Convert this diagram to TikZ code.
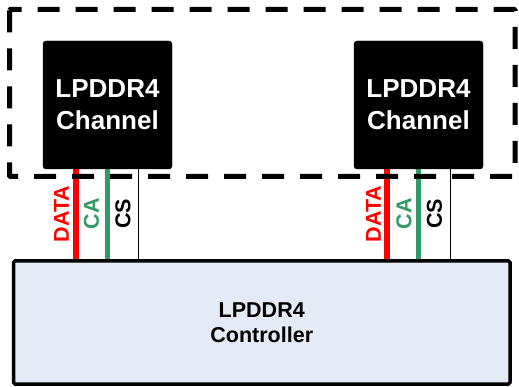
\documentclass[tikz,border=0pt]{standalone}
\usepackage{fontspec}
\setmainfont{Liberation Sans}
\usetikzlibrary{backgrounds}
\definecolor{ctrlfill}{HTML}{E4EBF6}
\definecolor{cagreen}{HTML}{339966}
\begin{document}
\begin{tikzpicture}[x=1pt,y=-1pt,
  chanbox/.style={draw=black,fill=black,rounded corners=3pt,minimum width=129pt,minimum height=128pt,
    inner sep=0pt,align=center,text=white,font=\bfseries\fontsize{26}{32}\selectfont},
  ctrlbox/.style={draw=black,fill=ctrlfill,line width=3.5pt,rounded corners=1.5pt,minimum width=496.5pt,
    minimum height=123pt,inner sep=0pt,align=center,font=\bfseries\fontsize{21.5}{25}\selectfont},
  groupframe/.style={draw=black,line width=5pt,dash pattern=on 22pt off 16pt,rounded corners=1pt},
  dataline/.style={draw=red,line width=6pt,line cap=round},
  caline/.style={draw=cagreen,line width=5pt,line cap=round},
  csline/.style={draw=black,line width=1pt},
  siglabel/.style={rotate=90,inner sep=0pt,font=\bfseries\fontsize{21.5}{24}\selectfont}]
\useasboundingbox (0,0) rectangle (519,387);

% dashed frame around the two channels
\draw[groupframe] (9.5,9.5) rectangle (515,176.5);

% memory channels and controller
\node[chanbox] (ch1) at (107.5,105) {LPDDR4\\Channel};
\node[chanbox] (ch2) at (418.5,105) {LPDDR4\\Channel};
\node[ctrlbox] (ctrl) at (261.75,322.5) {LPDDR4\\Controller};

% signal positions
\coordinate (d1) at (76,0);
\coordinate (a1) at (107,0);
\coordinate (s1) at (138,0);
\coordinate (d2) at (387,0);
\coordinate (a2) at (418,0);
\coordinate (s2) at (450,0);

% buses between channels and controller, kept behind the boxes
\begin{scope}[on background layer]
\draw[dataline] (d1 |- ch1.south) -- (d1 |- ctrl.north);
\draw[caline] (a1 |- ch1.south) -- (a1 |- ctrl.north);
\draw[csline] (s1 |- ch1.south) -- (s1 |- ctrl.north);
\draw[dataline] (d2 |- ch2.south) -- (d2 |- ctrl.north);
\draw[caline] (a2 |- ch2.south) -- (a2 |- ctrl.north);
\draw[csline] (s2 |- ch2.south) -- (s2 |- ctrl.north);
\end{scope}

% signal labels
\node[siglabel,text=red] (t1) at (61.5,214) {DATA};
\node[siglabel,text=cagreen] (t2) at (91.5,213.5) {CA};
\node[siglabel,text=black] (t3) at (123,214) {CS};
\node[siglabel,text=red] (t4) at (373.5,214) {DATA};
\node[siglabel,text=cagreen] (t5) at (404,213.5) {CA};
\node[siglabel,text=black] (t6) at (434.5,214) {CS};
\end{tikzpicture}
\end{document}
